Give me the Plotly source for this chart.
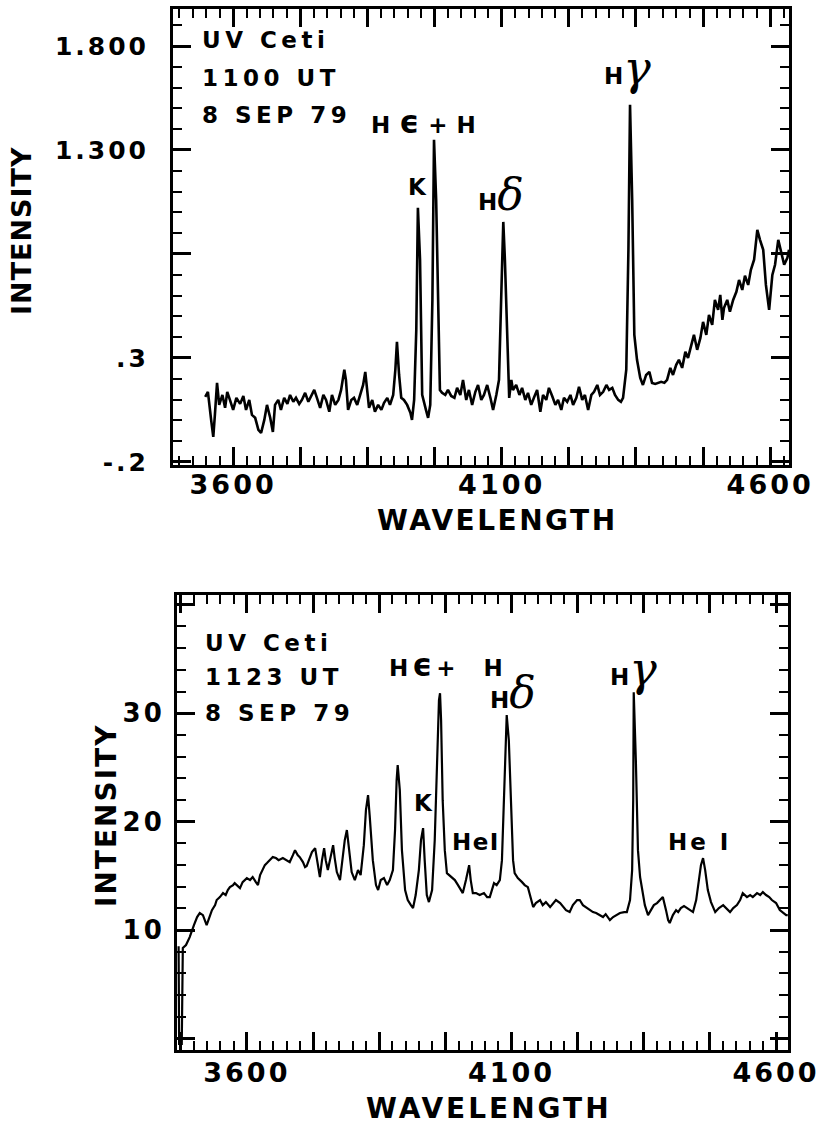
import plotly.graph_objects as go

W, H = 820, 1129
FONT = "DejaVu Sans"

# ---------------- data ----------------
# Upper panel: UV Ceti, 1100 UT, 8 SEP 79
top_wavelength = [
    3548, 3553, 3559, 3563, 3566, 3570, 3574, 3580, 3585, 3589,
    3594, 3600, 3606, 3613, 3619, 3624, 3630, 3635, 3641, 3647,
    3652, 3658, 3663, 3669, 3674, 3678, 3684, 3689, 3695, 3701,
    3706, 3712, 3717, 3723, 3728, 3734, 3740, 3745, 3751, 3756,
    3762, 3768, 3773, 3779, 3784, 3790, 3796, 3801, 3807, 3810,
    3814, 3820, 3825, 3831, 3836, 3842, 3846, 3850, 3853, 3859,
    3864, 3870, 3876, 3881, 3887, 3892, 3898, 3902, 3905, 3909,
    3913, 3918, 3924, 3930, 3933, 3937, 3941, 3944, 3948, 3952,
    3956, 3959, 3963, 3967, 3971, 3974, 3978, 3982, 3985, 3989,
    3995, 4000, 4006, 4012, 4017, 4023, 4028, 4034, 4039, 4045,
    4051, 4056, 4062, 4067, 4073, 4079, 4084, 4090, 4095, 4099,
    4103, 4106, 4110, 4114, 4118, 4121, 4127, 4133, 4138, 4144,
    4149, 4155, 4160, 4166, 4172, 4177, 4183, 4188, 4194, 4200,
    4205, 4211, 4216, 4222, 4228, 4233, 4239, 4244, 4250, 4255,
    4261, 4267, 4272, 4278, 4283, 4289, 4295, 4300, 4306, 4311,
    4317, 4322, 4326, 4332, 4336, 4339, 4343, 4347, 4352, 4358,
    4363, 4369, 4375, 4380, 4386, 4391, 4397, 4403, 4408, 4414,
    4419, 4425, 4430, 4436, 4442, 4447, 4453, 4458, 4464, 4470,
    4475, 4481, 4486, 4492, 4497, 4503, 4507, 4511, 4514, 4520,
    4525, 4531, 4537, 4542, 4548, 4553, 4559, 4564, 4570, 4576,
    4581, 4587, 4592, 4598, 4604, 4609, 4615, 4620, 4626, 4632, 4635,
]
top_intensity = [
    0.113, 0.137, 0.002, -0.080, 0.026, 0.180, 0.074, 0.122, 0.060, 0.137,
    0.098, 0.050, 0.108, 0.079, 0.117, 0.050, 0.098, 0.026, 0.012, -0.046,
    -0.061, 0.002, 0.074, 0.012, -0.056, 0.074, 0.098, 0.050, 0.108, 0.079,
    0.122, 0.089, 0.108, 0.079, 0.098, 0.132, 0.089, 0.117, 0.146, 0.108,
    0.060, 0.122, 0.098, 0.041, 0.122, 0.074, 0.098, 0.146, 0.243, 0.194,
    0.050, 0.098, 0.108, 0.074, 0.122, 0.170, 0.233, 0.146, 0.060, 0.098,
    0.041, 0.074, 0.050, 0.084, 0.108, 0.074, 0.122, 0.243, 0.377, 0.218,
    0.108, 0.098, 0.074, 0.036, 0.002, 0.098, 0.435, 1.022, 0.772, 0.122,
    0.074, 0.050, 0.012, 0.074, 0.579, 1.349, 1.060, 0.435, 0.146, 0.132,
    0.122, 0.146, 0.117, 0.108, 0.156, 0.122, 0.194, 0.098, 0.146, 0.074,
    0.137, 0.170, 0.098, 0.122, 0.170, 0.108, 0.050, 0.122, 0.194, 0.579,
    0.954, 0.772, 0.387, 0.108, 0.194, 0.146, 0.170, 0.122, 0.156, 0.098,
    0.132, 0.074, 0.108, 0.146, 0.041, 0.122, 0.098, 0.156, 0.117, 0.074,
    0.098, 0.050, 0.108, 0.089, 0.122, 0.074, 0.108, 0.161, 0.098, 0.122,
    0.050, 0.122, 0.137, 0.170, 0.122, 0.137, 0.170, 0.146, 0.156, 0.122,
    0.098, 0.089, 0.108, 0.243, 0.820, 1.517, 1.060, 0.411, 0.291, 0.204,
    0.170, 0.218, 0.233, 0.180, 0.175, 0.180, 0.185, 0.180, 0.194, 0.252,
    0.218, 0.267, 0.291, 0.252, 0.329, 0.300, 0.363, 0.411, 0.339, 0.396,
    0.473, 0.411, 0.507, 0.459, 0.579, 0.531, 0.603, 0.483, 0.541, 0.579,
    0.522, 0.579, 0.618, 0.675, 0.627, 0.695, 0.651, 0.724, 0.772, 0.916,
    0.868, 0.820, 0.651, 0.531, 0.699, 0.748, 0.868, 0.810, 0.748, 0.781, 0.820,
]

# Lower panel: UV Ceti, 1123 UT, 8 SEP 79
bottom_wavelength = [
    3471, 3472, 3477, 3479, 3485, 3492, 3500, 3506, 3511, 3517,
    3524, 3530, 3534, 3540, 3543, 3549, 3555, 3560, 3564, 3568,
    3574, 3577, 3583, 3587, 3592, 3600, 3606, 3611, 3617, 3621,
    3625, 3630, 3634, 3638, 3643, 3649, 3655, 3660, 3668, 3674,
    3681, 3687, 3691, 3696, 3700, 3706, 3710, 3713, 3719, 3723,
    3729, 3734, 3738, 3742, 3746, 3749, 3753, 3759, 3763, 3766,
    3770, 3776, 3780, 3785, 3789, 3793, 3798, 3804, 3810, 3815,
    3821, 3825, 3829, 3832, 3838, 3844, 3848, 3853, 3859, 3865,
    3870, 3876, 3880, 3883, 3885, 3889, 3893, 3899, 3904, 3910,
    3914, 3919, 3925, 3929, 3933, 3936, 3940, 3944, 3950, 3955,
    3959, 3963, 3965, 3967, 3970, 3974, 3978, 3984, 3989, 3993,
    3999, 4004, 4008, 4014, 4018, 4020, 4023, 4027, 4033, 4040,
    4048, 4054, 4059, 4063, 4067, 4072, 4078, 4082, 4086, 4090,
    4091, 4095, 4099, 4103, 4106, 4112, 4120, 4125, 4131, 4137,
    4141, 4146, 4154, 4159, 4165, 4173, 4178, 4184, 4192, 4197,
    4203, 4210, 4216, 4224, 4229, 4235, 4243, 4248, 4254, 4260,
    4267, 4273, 4278, 4286, 4292, 4299, 4305, 4313, 4318, 4324,
    4328, 4330, 4331, 4335, 4339, 4343, 4348, 4352, 4358, 4364,
    4369, 4375, 4381, 4386, 4392, 4396, 4399, 4405, 4411, 4415,
    4420, 4426, 4432, 4437, 4443, 4449, 4454, 4458, 4462, 4466,
    4471, 4477, 4485, 4492, 4500, 4505, 4513, 4519, 4526, 4532,
    4537, 4545, 4551, 4556, 4564, 4570, 4575, 4581, 4587, 4592,
    4600, 4607, 4613, 4619, 4622,
]
bottom_intensity = [
    8.50, -0.50, -0.50, 8.34, 8.62, 9.35, 10.46, 11.20, 11.57, 11.38,
    10.46, 11.38, 11.84, 12.30, 12.77, 13.04, 13.41, 13.23, 13.69, 13.96,
    14.15, 14.33, 14.06, 13.87, 14.42, 14.79, 14.61, 14.89, 14.42, 14.15,
    15.07, 15.53, 15.99, 16.18, 16.45, 16.73, 16.64, 16.45, 16.64, 16.45,
    16.27, 16.91, 17.37, 16.91, 16.73, 16.27, 15.81, 15.90, 16.64, 17.19,
    17.56, 16.27, 14.89, 16.45, 17.56, 16.45, 15.53, 16.91, 17.83, 16.64,
    15.35, 14.61, 16.27, 18.30, 19.22, 17.37, 15.35, 14.61, 15.53, 15.07,
    17.83, 21.06, 22.44, 20.60, 16.45, 14.15, 13.69, 14.61, 14.79, 14.15,
    14.61, 15.53, 19.22, 23.83, 25.21, 22.90, 17.37, 13.69, 12.77, 12.30,
    12.03, 13.23, 15.53, 18.30, 19.40, 16.45, 13.23, 12.58, 13.69, 18.30,
    25.67, 31.20, 31.84, 29.36, 21.98, 17.37, 15.25, 14.98, 14.79, 14.61,
    14.15, 13.69, 13.41, 14.61, 15.71, 15.99, 14.61, 13.41, 13.41, 13.23,
    13.41, 13.04, 13.04, 13.69, 14.33, 14.15, 14.61, 16.45, 21.98, 27.51,
    29.82, 27.51, 21.06, 16.45, 15.25, 14.79, 14.42, 14.15, 13.96, 12.77,
    12.12, 12.49, 12.77, 12.30, 12.58, 12.12, 12.40, 12.77, 12.49, 12.21,
    11.84, 11.66, 12.30, 12.77, 12.77, 12.30, 12.03, 11.84, 11.66, 11.57,
    11.38, 11.20, 11.47, 10.92, 11.20, 11.38, 11.57, 11.66, 11.66, 12.77,
    15.53, 21.98, 31.94, 25.67, 17.37, 14.89, 13.23, 12.30, 11.38, 11.84,
    12.30, 12.49, 12.77, 13.04, 11.84, 10.92, 10.65, 11.38, 11.84, 11.66,
    12.03, 12.21, 12.03, 11.84, 11.66, 12.77, 14.61, 15.99, 16.64, 15.53,
    13.69, 12.58, 11.66, 12.03, 12.30, 12.03, 11.66, 12.03, 12.30, 12.77,
    13.41, 13.04, 13.23, 13.04, 13.41, 13.23, 13.50, 13.23, 13.04, 12.77,
    12.49, 11.84, 11.57, 11.38, 11.38,
]

# tick values / labels
x_tick_values = [3475, 3600, 3725, 3850, 3975, 4100, 4225, 4350, 4475, 4600]
x_tick_labels = ["", "3600", "", "", "", "4100", "", "", "", "4600"]
top_y_tick_values = [-0.2, 0.3, 0.8, 1.3, 1.8]
top_y_tick_labels = ["-.2", ".3", "", "1.300", "1.800"]
bottom_y_tick_values = [0, 10, 20, 30, 40]
bottom_y_tick_labels = ["", "10", "20", "30", ""]

top_info = ["UV Ceti", "1100 UT", "8 SEP 79"]
bottom_info = ["UV Ceti", "1123 UT", "8 SEP 79"]


# ---------------- helpers ----------------
def px_x(p):
    return p / W


def px_y(p):
    return 1 - p / H


def spaced(text, ls):
    if not text:
        return ""
    return f'<span style="letter-spacing:{ls}px">{text}</span>'


def greek(ch, size):
    return (f'<span style="font-family:DejaVu Serif;font-style:italic;'
            f'font-weight:normal;font-size:{size}px">{ch}</span>')


def big(ch, size):
    return f'<span style="font-size:{size}px">{ch}</span>'


def note(text, x, y, xref, yref, size=23, xanchor="center", yanchor="middle", angle=0):
    return dict(text=text, x=x, y=y, xref=xref, yref=yref, showarrow=False,
                xanchor=xanchor, yanchor=yanchor, textangle=angle,
                font=dict(family=FONT, size=size, color="black", weight="bold"))


def axis(domain, anchor, rng, vals, labels, ls, font_size, major_len, minor_dtick,
         minor_tick0, standoff):
    return dict(
        domain=domain, anchor=anchor, range=rng, fixedrange=True, automargin=False,
        showline=True, linecolor="black", linewidth=3, mirror="ticks",
        showgrid=False, zeroline=False,
        ticks="inside", ticklen=major_len, tickwidth=2.5, tickcolor="black",
        tickmode="array", tickvals=vals, ticktext=[spaced(t, ls) for t in labels],
        tickangle=0, ticklabelstandoff=standoff,
        tickfont=dict(family=FONT, size=font_size, color="black", weight="bold"),
        minor=dict(tickmode="linear", tick0=minor_tick0, dtick=minor_dtick,
                   ticks="inside", ticklen=9, tickwidth=2.2, tickcolor="black",
                   showgrid=False),
    )


# ---------------- figure ----------------
fig = go.Figure()
fig.add_trace(go.Scatter(x=top_wavelength, y=top_intensity, mode="lines",
                         line=dict(color="black", width=2.6), xaxis="x", yaxis="y",
                         showlegend=False, hoverinfo="skip"))
fig.add_trace(go.Scatter(x=bottom_wavelength, y=bottom_intensity, mode="lines",
                         line=dict(color="black", width=2.2), xaxis="x2", yaxis="y2",
                         showlegend=False, hoverinfo="skip"))

annotations = []
# corner information text
for i, line in enumerate(top_info):
    annotations.append(note(spaced(line, 4.5), px_x(200), px_y([40, 78, 115][i]),
                            "paper", "paper", size=23, xanchor="left"))
for i, line in enumerate(bottom_info):
    annotations.append(note(spaced(line, 4.5), px_x(203), px_y([643, 677, 713][i]),
                            "paper", "paper", size=23, xanchor="left"))

# line identifications, upper panel
annotations += [
    note("K", 3944, 1.122, "x", "y"),
    note(spaced("H" + big("\u03f5", 31) + "+H", 9), 3963, 1.435, "x", "y"),
    note("H" + greek("\u03b4", 44), 4052, 1.084, "x", "y", xanchor="left"),
    note("H" + greek("\u03b3", 46), 4287, 1.695, "x", "y", xanchor="left"),
]
# line identifications, lower panel
annotations += [
    note("K", 3933, 21.7, "x2", "y2"),
    note(spaced("H" + big("\u03f5", 31) + "+\u00a0\u00a0H", 4), 3865, 34.4, "x2", "y2",
         xanchor="left"),
    note("H" + greek("\u03b4", 44), 4055, 31.9, "x2", "y2", xanchor="left"),
    note("H" + greek("\u03b3", 46), 4282, 34.1, "x2", "y2", xanchor="left"),
    note(spaced("HeI", 1.5), 4033, 18.1, "x2", "y2"),
    note(spaced("He I", 3), 4456, 18.1, "x2", "y2"),
]
# axis titles
annotations += [
    note(spaced("INTENSITY", 1), px_x(21), px_y(231), "paper", "paper", size=27, angle=-90),
    note(spaced("WAVELENGTH", 2.5), px_x(497), px_y(520), "paper", "paper", size=28),
    note(spaced("INTENSITY", 2), px_x(107), px_y(816), "paper", "paper", size=28, angle=-90),
    note(spaced("WAVELENGTH", 3), px_x(489), px_y(1108), "paper", "paper", size=28),
]

fig.update_layout(
    width=W, height=H, autosize=False,
    margin=dict(l=0, r=0, t=0, b=0, pad=0, autoexpand=False),
    paper_bgcolor="white", plot_bgcolor="white",
    showlegend=False,
    xaxis=axis([px_x(173), px_x(789)], "y", [3488, 4635], x_tick_values, x_tick_labels,
               3, 27, 18, 25, 3600, -6),
    yaxis=axis([px_y(465), px_y(9)], "x", [-0.215, 1.978], top_y_tick_values,
               top_y_tick_labels, 3, 25, 18, 0.1, -0.2, 16),
    xaxis2=axis([px_x(177), px_x(788)], "y2", [3468, 4622.5], x_tick_values, x_tick_labels,
                3, 27, 18, 25, 3600, -3),
    yaxis2=axis([px_y(1050), px_y(595)], "x2", [-1.06, 40.9], bottom_y_tick_values,
                bottom_y_tick_labels, 3, 26, 18, 2, 0, 4),
    annotations=annotations,
)

fig.write_html("out.html", config={"displayModeBar": False},
               post_script="document.body.style.margin='0';")
